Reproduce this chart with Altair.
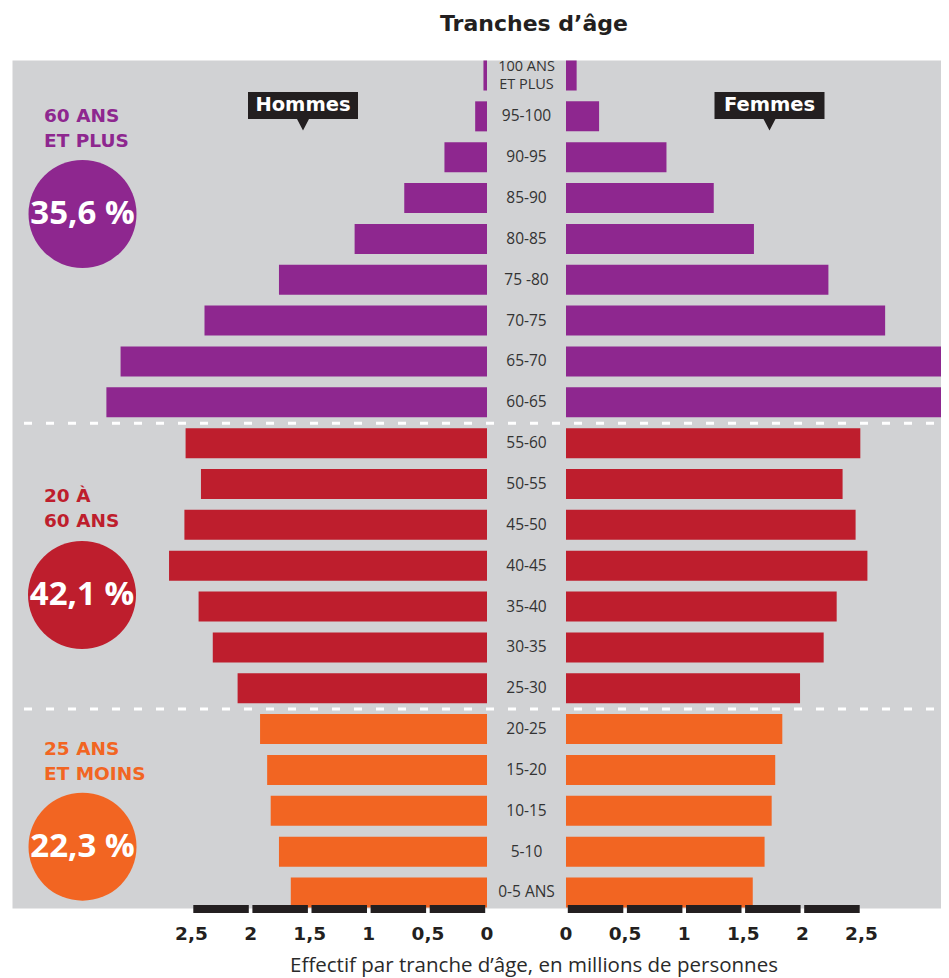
import altair as alt
import pandas as pd

# ---------------- data ----------------
AGES = ["100+", "95-100", "90-95", "85-90", "80-85", "75-80", "70-75", "65-70", "60-65",
        "55-60", "50-55", "45-50", "40-45", "35-40", "30-35", "25-30",
        "20-25", "15-20", "10-15", "5-10", "0-5"]
AGE_LABELS = ["100 ANS\nET PLUS", "95-100", "90-95", "85-90", "80-85", "75 -80", "70-75", "65-70", "60-65",
              "55-60", "50-55", "45-50", "40-45", "35-40", "30-35", "25-30",
              "20-25", "15-20", "10-15", "5-10", "0-5 ANS"]
HOMMES = [0.03, 0.10, 0.36, 0.70, 1.12, 1.76, 2.39, 3.10, 3.22,
          2.55, 2.42, 2.56, 2.69, 2.44, 2.32, 2.11,
          1.92, 1.86, 1.83, 1.76, 1.66]
FEMMES = [0.09, 0.28, 0.85, 1.25, 1.59, 2.22, 2.70, 3.30, 3.22,
          2.49, 2.34, 2.45, 2.55, 2.29, 2.18, 1.98,
          1.83, 1.77, 1.74, 1.68, 1.58]
GROUP_NAMES = ["60 ans et plus", "20 à 60 ans", "25 ans et moins"]
GROUP_OF_AGE = [GROUP_NAMES[0]] * 9 + [GROUP_NAMES[1]] * 7 + [GROUP_NAMES[2]] * 5
GROUP_TITLES = ["60 ANS\nET PLUS", "20 À\n60 ANS", "25 ANS\nET MOINS"]
GROUP_SHARES = ["35,6 %", "42,1 %", "22,3 %"]
GROUP_COLORS = ["#8E278F", "#BE1E2D", "#F26522"]
GROUP_BREAKS = ["55-60", "20-25"]
TICK_VALUES = [0, 0.5, 1, 1.5, 2, 2.5]
TICK_LABELS = ["0", "0,5", "1", "1,5", "2", "2,5"]
SEXES = ["Hommes", "Femmes"]
TITLE = "Tranches d’âge"
X_TITLE = "Effectif par tranche d’âge, en millions de personnes"

# ---------------- layout ----------------
W, H = 929, 848
PX = 118.2                      # pixels per million
CENTER = 514.5                  # pixel of the central label column
X0, X1 = -CENTER / PX, (W - CENTER) / PX
OFFSET = 39.5 / PX              # half width of central label column (in units)
GAP = 3.6 / PX                  # gap between axis segments
DARK = "#231F20"
BOLD = "DejaVu Sans"
REG = "Open Sans"

xscale = alt.Scale(domain=[X0, X1], nice=False, zero=False)
yscale = alt.Scale(domain=AGES, paddingInner=0.265, paddingOuter=0.012)

rows = []
for i, age in enumerate(AGES):
    rows.append({"age": age, "sexe": "Hommes", "group": GROUP_OF_AGE[i],
                 "lo": -(OFFSET + HOMMES[i]), "hi": -OFFSET})
    rows.append({"age": age, "sexe": "Femmes", "group": GROUP_OF_AGE[i],
                 "lo": OFFSET, "hi": OFFSET + FEMMES[i]})
bars_df = pd.DataFrame(rows)

labels_df = pd.DataFrame({"age": AGES, "label": AGE_LABELS, "mid": [0.0] * len(AGES)})
single_df = labels_df[~labels_df["label"].str.contains("\n")]
multi_df = labels_df[labels_df["label"].str.contains("\n")]

seg_rows, tick_rows = [], []
for sign in (-1, 1):
    for k in range(len(TICK_VALUES) - 1):
        a = OFFSET + TICK_VALUES[k] + GAP / 2
        b = OFFSET + TICK_VALUES[k + 1] - GAP / 2
        seg_rows.append({"lo": sign * a, "hi": sign * b})
    for v, lab in zip(TICK_VALUES, TICK_LABELS):
        tick_rows.append({"pos": sign * (OFFSET + v), "label": lab})
seg_df = pd.DataFrame(seg_rows)
tick_df = pd.DataFrame(tick_rows)

X = lambda f: alt.X(f, scale=xscale, axis=None)
Y = lambda f, **kw: alt.Y(f, scale=yscale, axis=None, **kw)

rules = alt.Chart(pd.DataFrame({"age": GROUP_BREAKS})).mark_rule(
    color="white", strokeWidth=3, strokeDash=[8, 14], yOffset=-5.0
).encode(y=Y("age:N", bandPosition=0), x=alt.value(12), x2=alt.value(W))

bars = alt.Chart(bars_df).mark_bar(clip=True).encode(
    x=X("lo:Q"), x2="hi:Q", y=Y("age:N"),
    color=alt.Color("group:N", scale=alt.Scale(domain=GROUP_NAMES, range=GROUP_COLORS), legend=None),
)

segs = alt.Chart(seg_df).mark_rect(color=DARK).encode(
    x=X("lo:Q"), x2="hi:Q", y=alt.value(845), y2=alt.value(853)
)

age_text = alt.Chart(single_df).mark_text(
    font=REG, fontSize=15.5, color="#333333"
).encode(x=X("mid:Q"), y=Y("age:N"), text="label:N")

age_text2 = alt.Chart(multi_df).mark_text(
    font=REG, fontSize=14.5, color="#333333", lineBreak="\n", lineHeight=18, dy=-9
).encode(x=X("mid:Q"), y=Y("age:N"), text="label:N")

tick_text = alt.Chart(tick_df).mark_text(
    font=BOLD, fontSize=18.5, fontWeight="bold", color=DARK
).encode(x=X("pos:Q"), y=alt.value(874), text="label:N")

layers = [rules, bars, segs, age_text, age_text2, tick_text]

GROUP_POS = [((32, 56), (70.5, 154)), ((32, 436), (70, 535)), ((32, 689), (70.5, 786.7))]
for name, title, share, col, ((tx, ty), (cx, cy)) in zip(GROUP_NAMES, GROUP_TITLES, GROUP_SHARES, GROUP_COLORS, GROUP_POS):
    gdf = pd.DataFrame({"title": [title], "share": [share]})
    base = alt.Chart(gdf)
    layers.append(base.mark_text(font=BOLD, fontSize=18.5, fontWeight="bold", color=col,
                                 align="left", lineBreak="\n", lineHeight=25)
                  .encode(x=alt.value(tx), y=alt.value(ty), text="title:N"))
    layers.append(base.mark_circle(size=11664, opacity=1, color=col)
                  .encode(x=alt.value(cx), y=alt.value(cy)))
    layers.append(base.mark_text(font=REG, fontSize=33, fontWeight="bold", color="white")
                  .encode(x=alt.value(cx), y=alt.value(cy), text="share:N"))

CALLOUT = "M-55,-13.5H55V13.5H6L0,25L-6,13.5H-55Z"
for sexe, cx in zip(SEXES, (291, 757.5)):
    sdf = pd.DataFrame({"sexe": [sexe]})
    layers.append(alt.Chart(sdf).mark_point(shape=CALLOUT, size=4, filled=True, opacity=1,
                                            color=DARK, strokeWidth=0)
                  .encode(x=alt.value(cx), y=alt.value(45.5)))
    layers.append(alt.Chart(sdf).mark_text(font=BOLD, fontSize=19.5, fontWeight="bold", color="white")
                  .encode(x=alt.value(cx), y=alt.value(45), text="sexe:N"))

layers.append(alt.Chart(pd.DataFrame({"t": [TITLE]})).mark_text(
    font=BOLD, fontSize=22, fontWeight="bold", color=DARK
).encode(x=alt.value(522), y=alt.value(-36), text="t:N"))

layers.append(alt.Chart(pd.DataFrame({"t": [X_TITLE]})).mark_text(
    font=REG, fontSize=20.5, color="#2A2A2A"
).encode(x=alt.value(522), y=alt.value(906), text="t:N"))

chart = alt.layer(*layers).properties(
    width=W, height=H,
    autosize=alt.AutoSizeParams(type="none"),
    padding={"left": 4, "top": 52, "right": 0, "bottom": 70},
    background="white",
).configure_view(fill="#D1D2D4", stroke="transparent")

chart.save("out.html", embed_options={"renderer": "svg", "actions": False})
